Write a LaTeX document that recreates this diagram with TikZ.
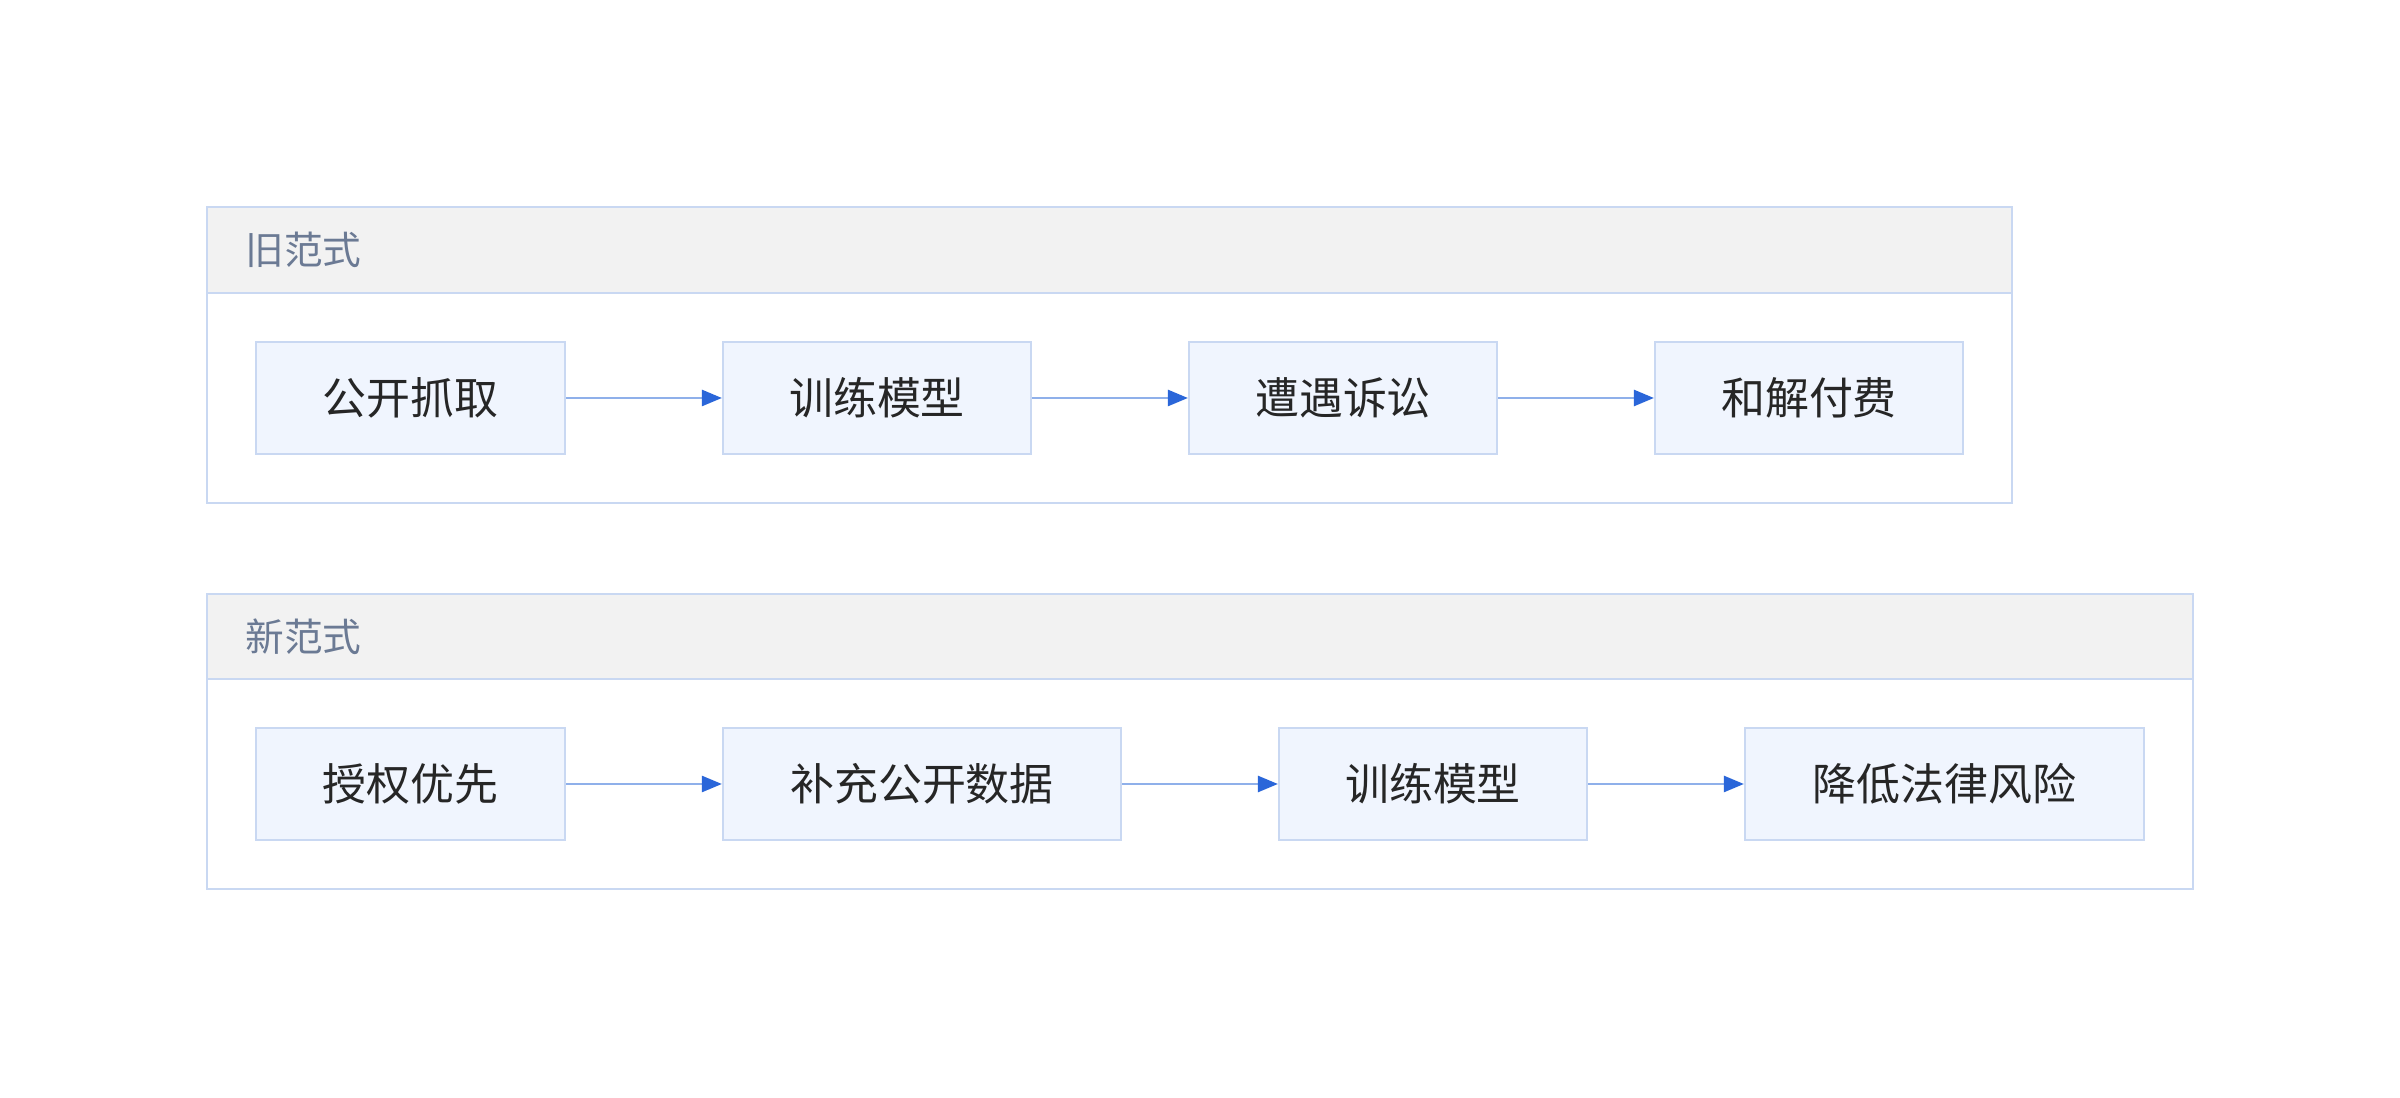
\documentclass[tikz,border=0pt]{standalone}
\usepackage{fontspec}
\newfontfamily\cjk{Noto Sans CJK SC}
\usetikzlibrary{arrows.meta,positioning}
\definecolor{edgeblue}{HTML}{C9D8F2}
\definecolor{boxfill}{HTML}{F0F5FE}
\definecolor{headfill}{HTML}{F2F2F2}
\definecolor{headtext}{HTML}{6B7A94}
\definecolor{lineblue}{HTML}{8FB0EA}
\definecolor{tipblue}{HTML}{2A66D9}
\tikzset{
  stepbox/.style={draw=edgeblue, line width=0.02cm, fill=boxfill, minimum height=1.12cm, inner sep=0pt, font=\cjk\fontsize{12.5}{14}\selectfont, text=black!85},
  flow/.style={draw=lineblue, line width=0.025cm, -{Triangle[length=0.2cm,width=0.16cm,color=tipblue]}},
  group/.style={draw=edgeblue, line width=0.025cm, fill=white},
  grouphead/.style={draw=edgeblue, line width=0.025cm, fill=headfill},
  headlabel/.style={anchor=west, font=\cjk\fontsize{11}{13}\selectfont, text=headtext}
}
\begin{document}
\begin{tikzpicture}[x=0.01cm,y=-0.01cm]
\useasboundingbox[fill=white] (0,0) rectangle (2400,1098);
% old paradigm
\draw[group] (207,207) rectangle (2012,503);
\draw[grouphead] (207,207) rectangle (2012,293);
\node[headlabel] (oldhead) at (233,250) {旧范式};
\node[stepbox, minimum width=3.09cm] (o1) at (410.5,398) {公开抓取};
\node[stepbox, minimum width=3.08cm] (o2) at (877,398) {训练模型};
\node[stepbox, minimum width=3.08cm] (o3) at (1343,398) {遭遇诉讼};
\node[stepbox, minimum width=3.08cm] (o4) at (1809,398) {和解付费};
\foreach \a/\b in {o1/o2,o2/o3,o3/o4}
  \draw[flow] (\a) -- (\b);
% new paradigm
\draw[group] (207,594) rectangle (2193,889);
\draw[grouphead] (207,594) rectangle (2193,679);
\node[headlabel] (newhead) at (233,637) {新范式};
\node[stepbox, minimum width=3.09cm] (n1) at (410.5,784) {授权优先};
\node[stepbox, minimum width=3.98cm] (n2) at (922,784) {补充公开数据};
\node[stepbox, minimum width=3.08cm] (n3) at (1433,784) {训练模型};
\node[stepbox, minimum width=3.99cm] (n4) at (1944.5,784) {降低法律风险};
\foreach \a/\b in {n1/n2,n2/n3,n3/n4}
  \draw[flow] (\a) -- (\b);
\end{tikzpicture}
\end{document}
